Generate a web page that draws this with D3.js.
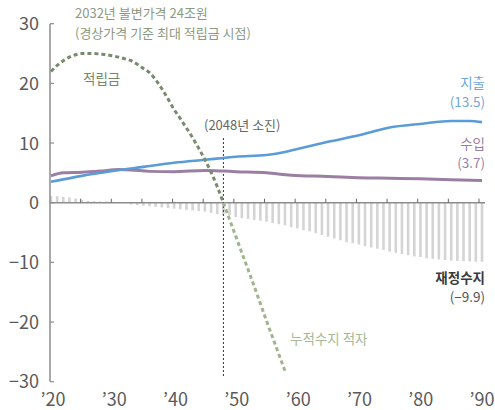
<!DOCTYPE html>
<html>
<head>
<meta charset="utf-8">
<script src="https://cdn.jsdelivr.net/npm/d3@7"></script>
<style>
  html, body { margin: 0; padding: 0; background: #fff; }
  svg { display: block; }
  .num { font-family: "Liberation Sans Narrow", "Noto Sans CJK KR", sans-serif; }
  .kr { font-family: "Noto Sans CJK KR", sans-serif; }
</style>
</head>
<body>
<svg id="chart" width="495" height="410"></svg>
<script>
// ---- data ----
const years = d3.range(2020, 2091);
const balance = [
  1.1, 1.1, 1.0, 0.9, 0.7, 0.5, 0.3, 0.25, 0.2, 0.2,
  0.15, 0.1, 0.05, -0.3, -0.4, -0.5, -0.6, -0.7, -0.8, -0.9,
  -1.0, -1.1, -1.2, -1.3, -1.4, -1.5, -1.7, -1.9, -2.0, -2.1,
  -2.4, -2.6, -2.7, -2.9, -3.0, -3.2, -3.4, -3.6, -3.8, -4.1,
  -4.3, -4.6, -4.8, -5.1, -5.4, -5.7, -6.0, -6.3, -6.6, -6.8,
  -7.0, -7.3, -7.5, -7.7, -7.9, -8.2, -8.4, -8.6, -8.8, -9.0,
  -9.1, -9.3, -9.4, -9.5, -9.6, -9.7, -9.75, -9.8, -9.85, -9.9,
  -9.9
];
const spendYears = [2020, 2025, 2030, 2035, 2040, 2045, 2048, 2050, 2055, 2058, 2060, 2065, 2070, 2075, 2080, 2085, 2088, 2090];
const spend      = [3.5, 4.5, 5.3, 6.0, 6.7, 7.2, 7.5, 7.7, 8.0, 8.5, 9.0, 10.2, 11.3, 12.6, 13.2, 13.7, 13.7, 13.5];
const incomeYears = [2020, 2022, 2025, 2028, 2031, 2033, 2036, 2040, 2045, 2048, 2050, 2055, 2059, 2065, 2070, 2075, 2080, 2085, 2090];
const income      = [4.5, 5.0, 5.1, 5.3, 5.55, 5.5, 5.25, 5.2, 5.4, 5.3, 5.2, 5.0, 4.6, 4.4, 4.2, 4.1, 4.0, 3.85, 3.7];
const fundYears = d3.range(2020, 2049);
const fund = [22.0, 23.0, 23.8, 24.4, 24.8, 25.0, 25.0, 25.0, 24.9, 24.8,
              24.6, 24.4, 24.1, 23.8, 23.2, 22.5, 21.8, 20.6, 19.1, 17.4,
              15.6, 14.1, 12.5, 10.9, 9.1, 7.2, 5.1, 2.7, 0.0];
const deficitYears = d3.range(2048, 2059);
const deficit = [0.0, -2.8, -5.6, -8.4, -11.2, -14.0, -16.9, -19.8, -22.6, -25.4, -28.2];
const yTicks = [30, 20, 10, 0, -10, -20, -30];
const xTicks = [2020, 2030, 2040, 2050, 2060, 2070, 2080, 2090];
const xMinorTicks = d3.range(2020, 2091, 5);
const exhaustYear = 2048;

// ---- scales ----
const svg = d3.select("#chart");
const y = d3.scaleLinear().domain([-30, 30]).range([381.7, 23.7]);
const xAxisScale = d3.scaleLinear().domain([2020, 2090]).range([50, 479]);
const x = d3.scaleLinear().domain([2020, 2090]).range([51, 482]);

// ---- bars ----
svg.append("g").selectAll("rect").data(years).join("rect")
  .attr("x", d => x(d) - 1.3)
  .attr("width", 2.6)
  .attr("y", (d, i) => y(Math.max(0, balance[i])))
  .attr("height", (d, i) => Math.abs(y(balance[i]) - y(0)))
  .attr("fill", "#d4d4d4");

// ---- axes ----
const axisColor = "#8c8c8c";
svg.append("line")
  .attr("x1", 50).attr("x2", 50)
  .attr("y1", y(30)).attr("y2", y(-30))
  .attr("stroke", axisColor).attr("stroke-width", 1.5);
svg.append("g").selectAll("line").data(yTicks).join("line")
  .attr("x1", 50).attr("x2", 54)
  .attr("y1", d => y(d)).attr("y2", d => y(d))
  .attr("stroke", axisColor).attr("stroke-width", 1.2);
svg.append("g").selectAll("text").data(yTicks).join("text")
  .attr("class", "num")
  .attr("x", 39).attr("y", d => y(d))
  .attr("dy", "0.36em")
  .attr("text-anchor", "end")
  .attr("font-size", 18)
  .attr("fill", "#5a5a5a")
  .text(d => d < 0 ? "\u2212" + Math.abs(d) : d);

svg.append("line")
  .attr("x1", 50).attr("x2", 485)
  .attr("y1", y(0)).attr("y2", y(0))
  .attr("stroke", axisColor).attr("stroke-width", 1.5);
svg.append("g").selectAll("line").data(xMinorTicks.slice(1)).join("line")
  .attr("x1", d => xAxisScale(d)).attr("x2", d => xAxisScale(d))
  .attr("y1", y(0)).attr("y2", y(0) - 4)
  .attr("stroke", "#666").attr("stroke-width", 1);
svg.append("g").selectAll("text").data(xTicks).join("text")
  .attr("class", "num")
  .attr("x", d => xAxisScale(d) + 3).attr("y", 406)
  .attr("text-anchor", "middle")
  .attr("font-size", 18)
  .attr("fill", "#5a5a5a")
  .text(d => "\u2019" + String(d).slice(2));

// ---- exhaust marker ----
svg.append("line")
  .attr("x1", x(exhaustYear)).attr("x2", x(exhaustYear))
  .attr("y1", 138).attr("y2", 377)
  .attr("stroke", "#333").attr("stroke-width", 1)
  .attr("stroke-dasharray", "2,2");

// ---- lines ----
const line = d3.line().curve(d3.curveMonotoneX).x(d => x(d[0])).y(d => y(d[1]));
svg.append("path")
  .datum(incomeYears.map((d, i) => [d, income[i]]))
  .attr("d", line).attr("fill", "none")
  .attr("stroke", "#9b7fa3").attr("stroke-width", 3);
svg.append("path")
  .datum(spendYears.map((d, i) => [d, spend[i]]))
  .attr("d", line).attr("fill", "none")
  .attr("stroke", "#5b9bd8").attr("stroke-width", 2.6);
svg.append("path")
  .datum(fundYears.map((d, i) => [d, fund[i]]))
  .attr("d", line).attr("fill", "none")
  .attr("stroke", "#798b6d").attr("stroke-width", 3)
  .attr("stroke-dasharray", "4,3");
svg.append("path")
  .datum(deficitYears.map((d, i) => [d, deficit[i]]))
  .attr("d", line).attr("fill", "none")
  .attr("stroke", "#a0b48f").attr("stroke-width", 3)
  .attr("stroke-dasharray", "4,3");

// ---- labels ----
function label(txt, xp, yp, color, anchor, weight, size) {
  svg.append("text").attr("class", "kr")
    .attr("x", xp).attr("y", yp)
    .attr("text-anchor", anchor || "start")
    .attr("font-size", size || 13)
    .attr("font-weight", weight || 400)
    .attr("fill", color)
    .text(txt);
}
label("2032년 불변가격 24조원", 75, 18, "#8c9a82");
label("(경상가격 기준 최대 적립금 시점)", 75, 37.5, "#8c9a82");
label("적립금", 83, 84, "#74866a", "start", 400, 13.5);
label("(2048년 소진)", 204, 130, "#666");
label("지출", 485, 88, "#6fa6da", "end", 400, 13.5);
label("(13.5)", 485, 107, "#6fa6da", "end", 400, 13.5);
label("수입", 485, 149, "#9b7fa3", "end", 400, 13.5);
label("(3.7)", 485, 168, "#9b7fa3", "end", 400, 13.5);
label("재정수지", 485, 283, "#3a3a3a", "end", 700, 13.5);
label("(\u22129.9)", 485, 302, "#555", "end", 400, 13.5);
label("누적수지 적자", 290, 344, "#a6b896", "start", 400, 13.5);
</script>
</body>
</html>
